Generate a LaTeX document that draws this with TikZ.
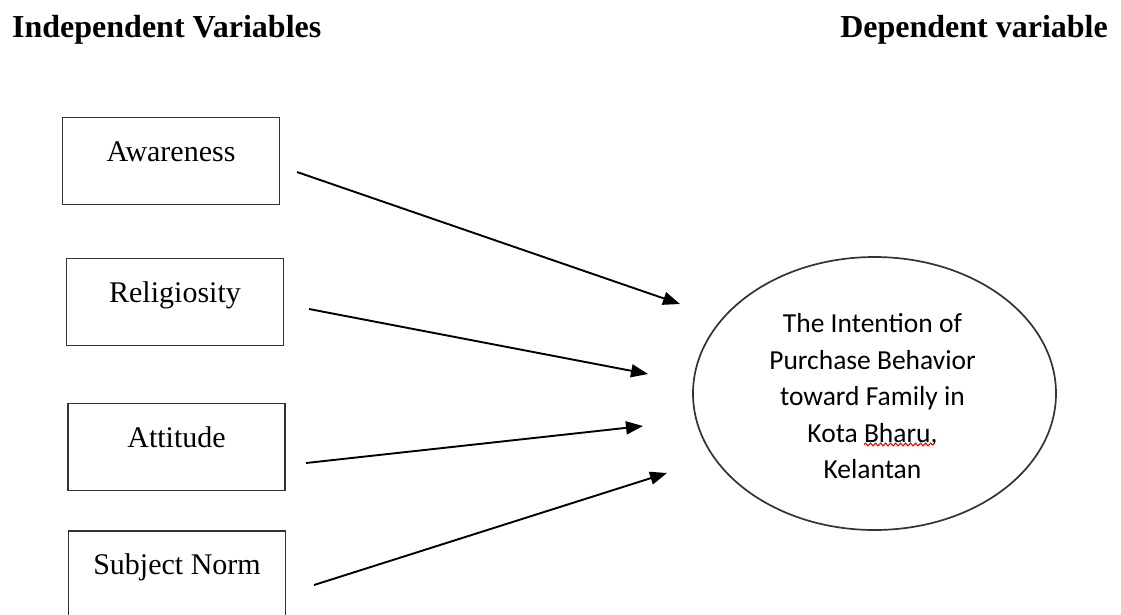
\documentclass[tikz,border=0pt]{standalone}
\usepackage{fontspec}
\setmainfont{Liberation Serif}
\newfontfamily\calibri{Carlito}
\usetikzlibrary{arrows.meta,shapes.geometric,decorations.pathmorphing}
\begin{document}
\begin{tikzpicture}[x=1pt,y=-1pt,
  varbox/.style={draw=black!80, line width=1.7pt, minimum width=217pt, minimum height=87pt,
    inner sep=0pt, font=\fontsize{30}{36}\selectfont, text height=11pt, text depth=11pt},
  head/.style={font=\fontsize{32}{38}\selectfont\bfseries, inner sep=0pt},
  depvar/.style={ellipse, draw=black!80, line width=1.7pt, minimum width=363pt, minimum height=273pt,
    inner sep=0pt},
  depvartext/.style={inner sep=0pt, align=center, font=\calibri\fontsize{27.5}{36.5}\selectfont},
  link/.style={line width=1.9pt, -{Triangle[length=17pt,width=13pt]}},
  squiggle/.style={red!85!black, line width=1pt, decorate, decoration={snake, amplitude=1.4pt, segment length=5pt}}
  ]
\path[use as bounding box] (0,0) rectangle (1121,614);
\clip (0,0) rectangle (1121,614);

\node[head, anchor=base west] (hi) at (12,37) {Independent Variables};
\node[head, anchor=base east] (hd) at (1108,37) {Dependent variable};

\node[varbox] (aw) at (171,161) {Awareness};
\node[varbox] (rel) at (175,302) {Religiosity};
\node[varbox] (att) at (176.5,447) {Attitude};
\node[varbox] (sn) at (177,574.5) {Subject Norm};

\node[depvar] (dv) at (874.5,393.5) {};
\node[depvartext] (dvt) at (872.5,396.5) {The Intention of\\Purchase Behavior\\toward Family in\\Kota Bharu,\\Kelantan};

\coordinate (s1) at (297,172);
\coordinate (e1) at (680,304);
\coordinate (s2) at (309,309);
\coordinate (e2) at (648,374);
\coordinate (s3) at (306,463);
\coordinate (e3) at (643,426);
\coordinate (s4) at (314,585);
\coordinate (e4) at (667,473);

\draw[link] (s1) -- (e1);
\draw[link] (s2) -- (e2);
\draw[link] (s3) -- (e3);
\draw[link] (s4) -- (e4);

\coordinate (u1) at (864,444.5);
\coordinate (u2) at (934,444.5);
\draw[squiggle] (u1) -- (u2);
\end{tikzpicture}
\end{document}
